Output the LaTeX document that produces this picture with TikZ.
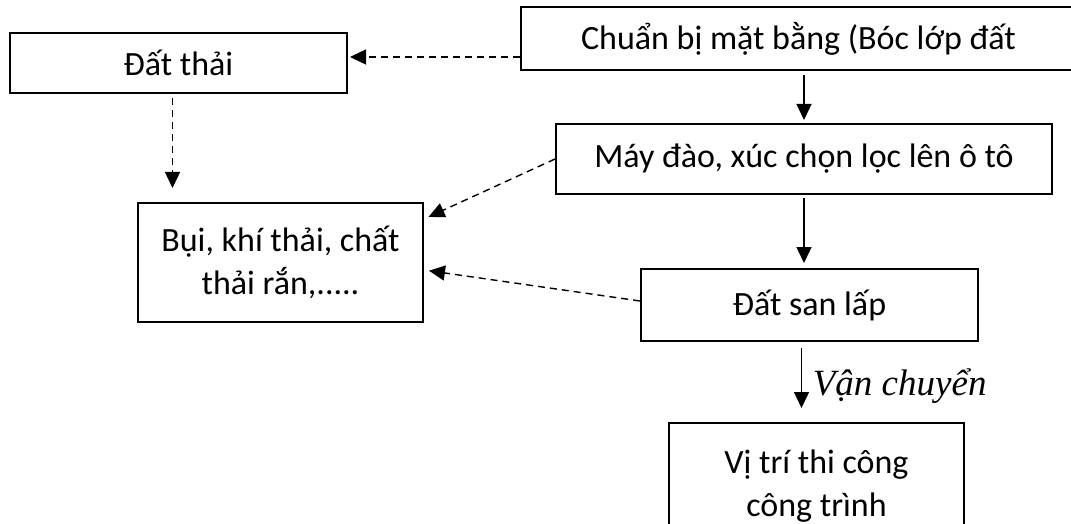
\documentclass[tikz,border=0pt]{standalone}
\usepackage{fontspec}
\setmainfont{Carlito}
\newfontfamily\timesfont{Liberation Serif}
\usetikzlibrary{arrows.meta}

\begin{document}
\begin{tikzpicture}[x=0.5pt,y=-0.5pt,
	>={Triangle[length=8pt,width=7.5pt]},
	flow/.style={->,line width=0.7pt},
	waste/.style={->,line width=0.7pt,dash pattern=on 3.5pt off 2.5pt}]
	\clip (0,0) rectangle (1071,524);
	\begin{scope}[every node/.style={rectangle,draw,line width=1pt,
		inner sep=0pt,align=center,font=\fontsize{17}{21.5}\selectfont}]
	\node (P) at (798.5,38.5) [minimum width=277.5pt,minimum height=31.5pt]{Chuẩn bị mặt bằng (Bóc lớp đất};
	\node (T) at (178.5,63) [minimum width=168.5pt,minimum height=30pt]{Đất thải};
	\node (M) at (804,159) [minimum width=248pt,minimum height=35pt]{Máy đào, xúc chọn lọc lên ô tô};
	\node (B) at (280.5,262.5) [minimum width=142.5pt,minimum height=59.5pt]{Bụi, khí thải, chất\\thải rắn,.....};
	\node (S) at (809.5,305) [minimum width=168.5pt,minimum height=36pt]{Đất san lấp};
	\node (V) at (816.5,486.5) [minimum width=147.5pt,minimum height=63.5pt]{Vị trí thi công\\công trình};
	\end{scope}
	\coordinate (t) at ([yshift=3pt]T.east);
	\coordinate (b1) at ([yshift=-8.5pt]B.north east);
	\coordinate (b2) at ([yshift=-3.75pt]B.east);
	
	\path[flow,shorten <=2pt,shorten >=1.5pt] (M.north |- P.south) edge (M.north);
	\path[flow,shorten <=1.5pt,shorten >=2.5pt] (M.south) edge (M.south |- S.north);
	\path[flow,shorten <=3pt,shorten >=7pt] ([xshift=-4pt]S.south) edge
		node[right=2pt,yshift=-2pt,font=\timesfont\itshape\fontsize{18.5}{22}\selectfont]{Vận chuyển}
		([xshift=-4pt]S.south |- V.north);
	\path[waste,shorten >=1pt] (P.west |- t) edge (t);
	\path[waste,shorten <=2pt,shorten >=7pt] ([xshift=-3pt]T.south) edge ([xshift=-3pt]T.south |- B.north);
	\path[waste,shorten >=2.5pt] (M.west) edge (b1);
	\path[waste,shorten >=2.5pt] ([yshift=2pt]S.west) edge (b2);
\end{tikzpicture}
\end{document}
